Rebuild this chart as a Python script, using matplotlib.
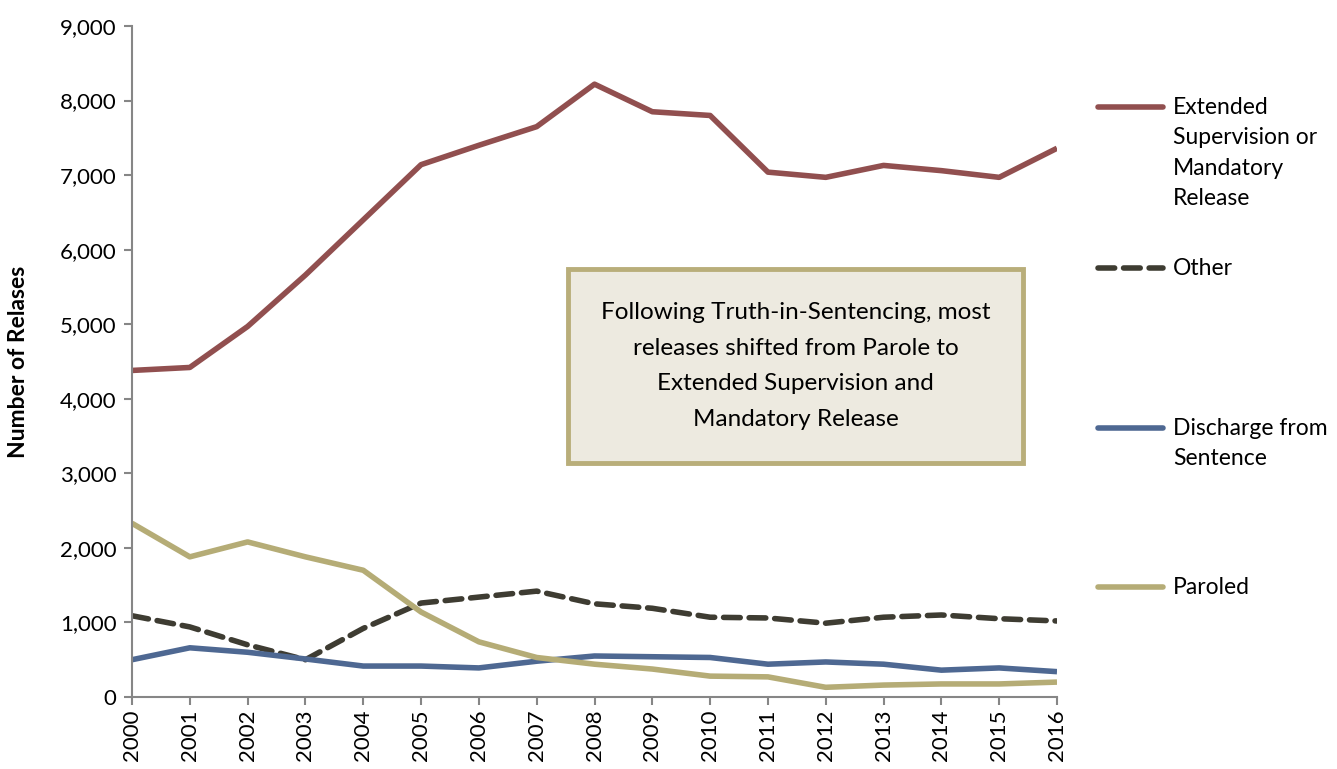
import matplotlib
matplotlib.use("Agg")
import matplotlib.pyplot as plt
from matplotlib.lines import Line2D
from matplotlib.patches import Rectangle

plt.rcParams['font.family'] = ['Lato', 'DejaVu Sans']

years = list(range(2000, 2017))
extended = [4380, 4420, 4970, 5660, 6400, 7140, 7400, 7650, 8220, 7850, 7800, 7040, 6970, 7130, 7060, 6970, 7360]
other = [1090, 940, 700, 500, 920, 1260, 1340, 1420, 1250, 1190, 1070, 1060, 990, 1070, 1100, 1050, 1020]
discharge = [500, 660, 600, 510, 415, 415, 390, 480, 550, 540, 530, 440, 470, 440, 360, 390, 340]
paroled = [2330, 1880, 2080, 1880, 1700, 1140, 740, 530, 440, 375, 280, 270, 130, 160, 175, 175, 200]

series_names = ["Extended\nSupervision or\nMandatory\nRelease", "Other", "Discharge from\nSentence", "Paroled"]
colors = ["#914F4F", "#3E3C32", "#4E6892", "#B5AC76"]
yticks = list(range(0, 9001, 1000))
annotation = "Following Truth-in-Sentencing, most\nreleases shifted from Parole to\nExtended Supervision and\nMandatory Release"

W, H = 1337, 769
fig = plt.figure(figsize=(W / 100, H / 100), dpi=100)
ax = fig.add_axes([132 / W, 1 - 697 / H, (1057 - 132) / W, (697 - 26) / H])

lw = 4.0
ax.plot(years, extended, color=colors[0], lw=lw, solid_capstyle='butt')
ax.plot(years, other, color=colors[1], lw=lw, ls=(0, (3, 1.6)), dash_capstyle='round')
ax.plot(years, discharge, color=colors[2], lw=lw, solid_capstyle='butt')
ax.plot(years, paroled, color=colors[3], lw=lw, solid_capstyle='butt')

ax.set_xlim(2000, 2016)
ax.set_ylim(0, 9000)
ax.set_yticks(yticks)
ax.set_yticklabels([f"{v:,}" for v in yticks], fontsize=16)
ax.set_xticks(years)
ax.set_xticklabels([str(y) for y in years], rotation=90, fontsize=16)
for s in ['top', 'right']:
    ax.spines[s].set_visible(False)
for s in ['left', 'bottom']:
    ax.spines[s].set_color('#868686')
    ax.spines[s].set_linewidth(1.5)
ax.tick_params(axis='both', color='#868686', width=1.5, length=6)
ax.tick_params(axis='y', pad=5)
ax.tick_params(axis='x', pad=3)
ax.set_ylabel("Number of Relases", fontsize=16.5, fontweight='bold')
ax.yaxis.set_label_coords((29 - 132) / (1057 - 132), 0.5)

# annotation box
bx0, by0, bx1, by1 = 568, 269, 1023, 463
fig.add_artist(Rectangle((bx0 / W, 1 - by1 / H), (bx1 - bx0) / W, (by1 - by0) / H,
                         transform=fig.transFigure, facecolor='#EDEAE0', edgecolor='#B9AE7A', lw=3.5))
fig.text((bx0 + bx1) / 2 / W, 1 - 366 / H, annotation, ha='center', va='center',
         fontsize=17.5, linespacing=1.85, color='#000000')

# legend
legend_y = [107, 268, 428, 587]
ls_list = ['-', (0, (3, 1.6)), '-', '-']
for name, c, yy, ls in zip(series_names, colors, legend_y, ls_list):
    fig.add_artist(Line2D([1098 / W, 1163 / W], [1 - yy / H, 1 - yy / H], transform=fig.transFigure,
                          color=c, lw=lw, ls=ls, solid_capstyle='round', dash_capstyle='round'))
    fig.text(1173 / W, 1 - (yy - 10) / H, name, ha='left', va='top', fontsize=16.5, linespacing=1.55)

fig.savefig("out.png", dpi=100)
